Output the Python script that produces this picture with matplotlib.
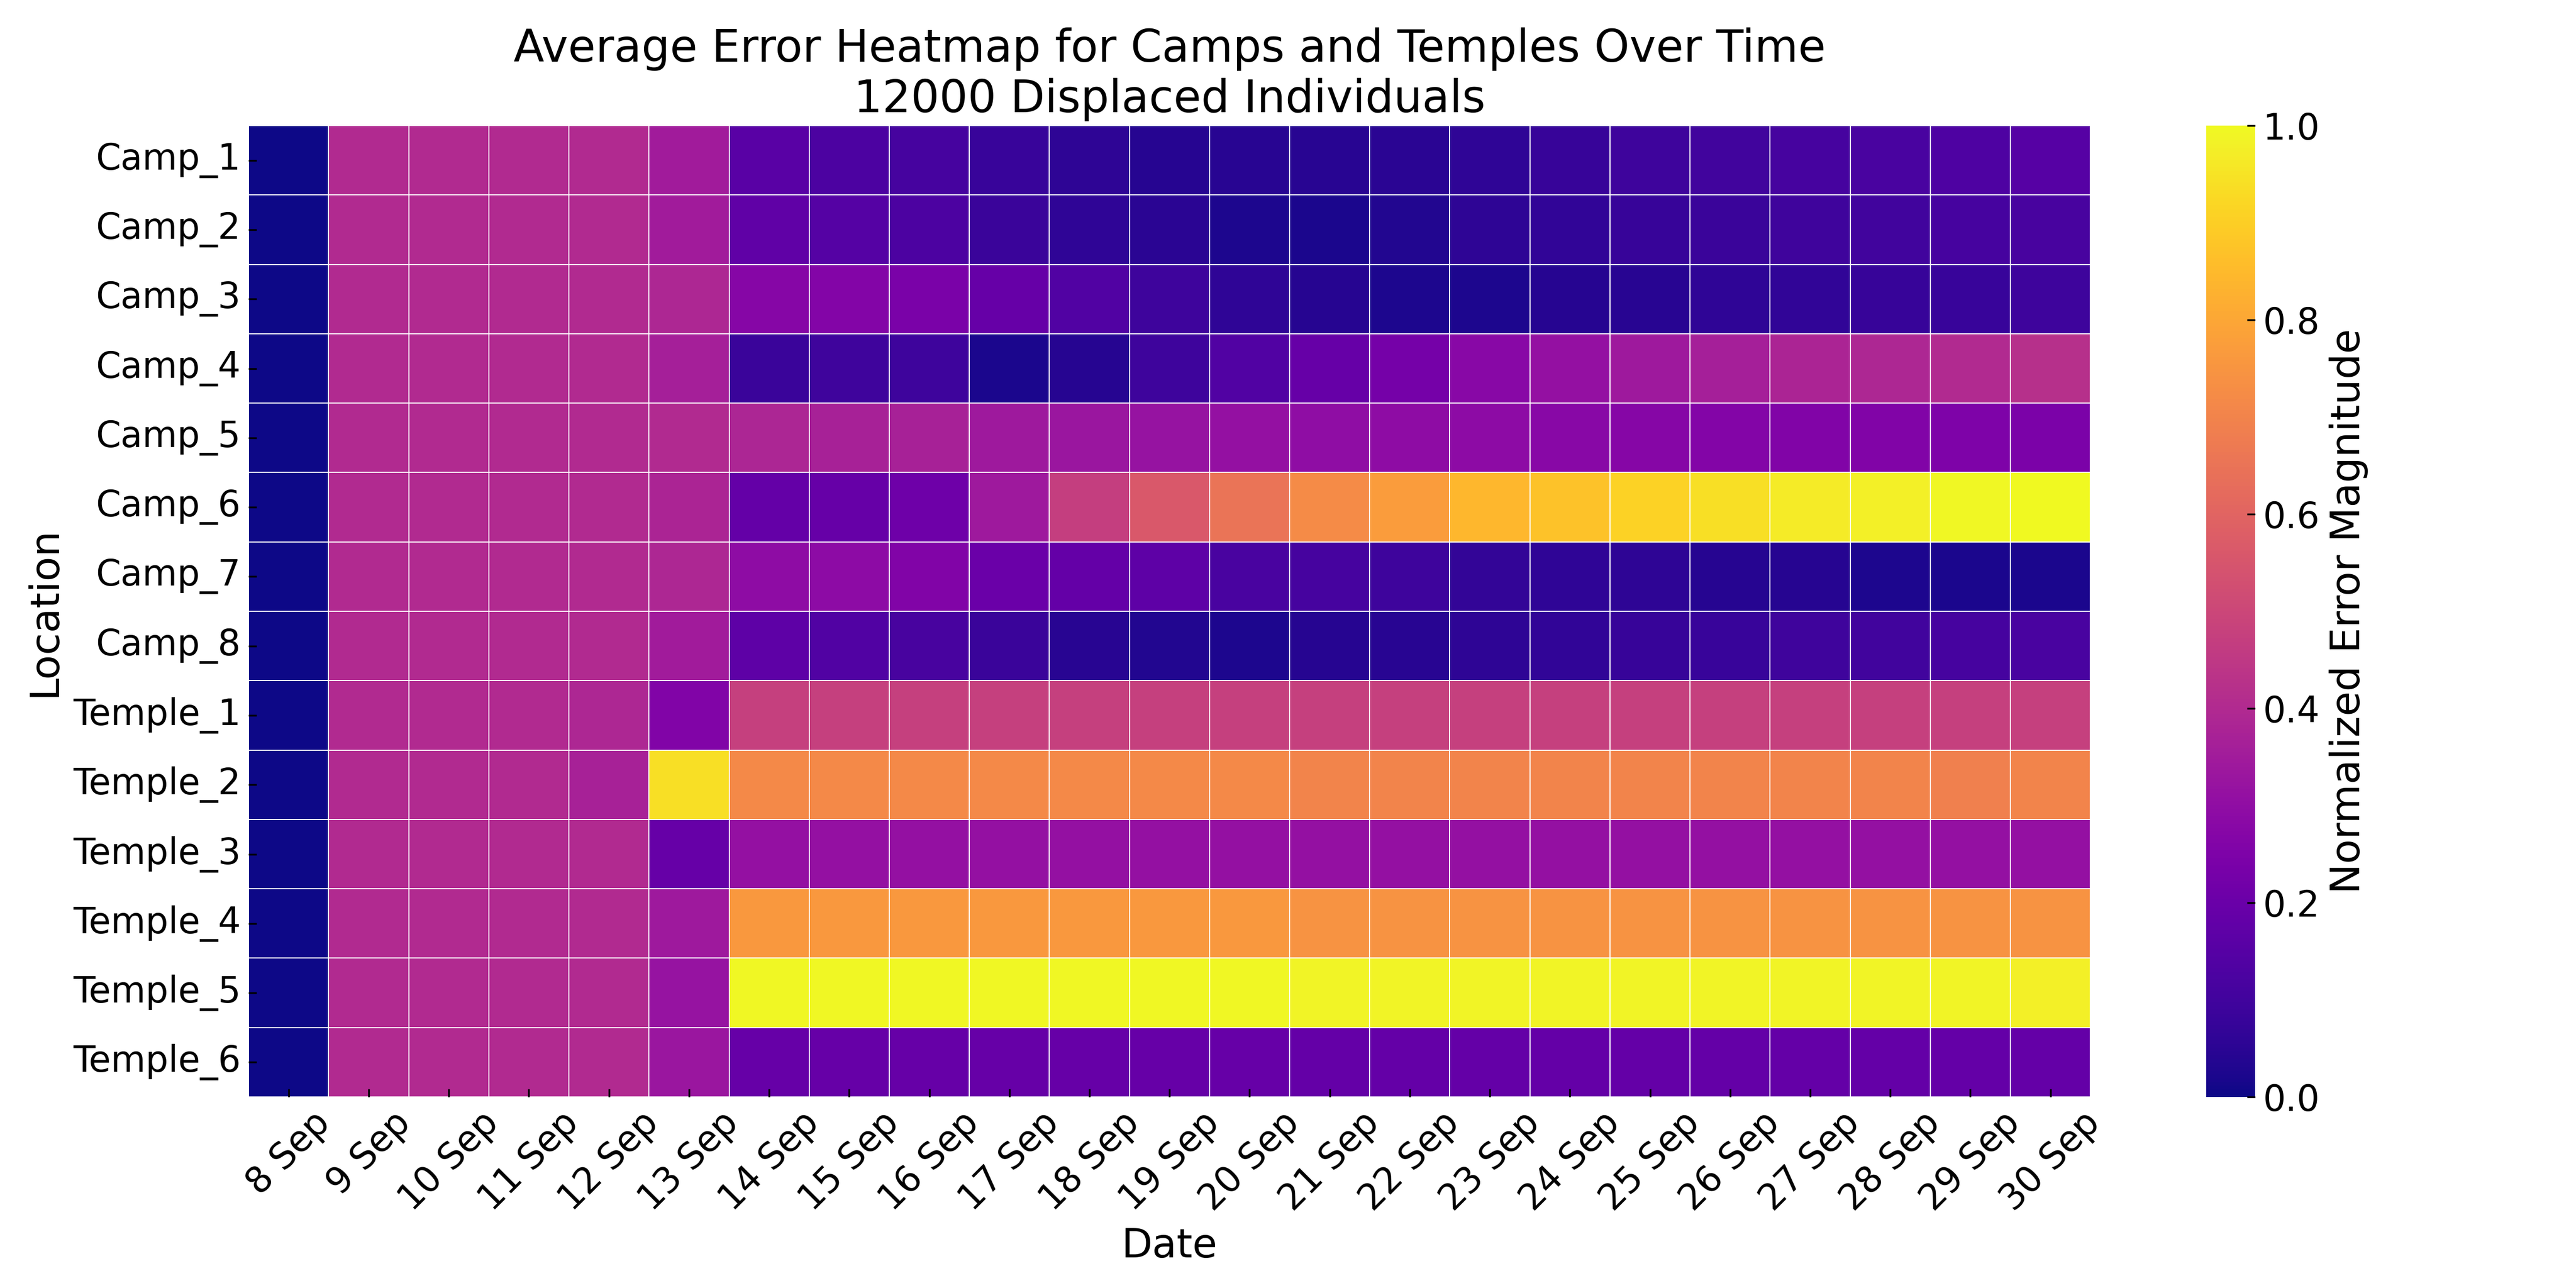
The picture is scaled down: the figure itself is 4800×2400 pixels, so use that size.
import pandas as pd
import matplotlib
matplotlib.use("Agg")
import matplotlib.pyplot as plt
import seaborn as sns

dates = ["8 Sep", "9 Sep", "10 Sep", "11 Sep", "12 Sep", "13 Sep", "14 Sep", "15 Sep",
         "16 Sep", "17 Sep", "18 Sep", "19 Sep", "20 Sep", "21 Sep", "22 Sep", "23 Sep",
         "24 Sep", "25 Sep", "26 Sep", "27 Sep", "28 Sep", "29 Sep", "30 Sep"]
locations = ["Camp_1", "Camp_2", "Camp_3", "Camp_4", "Camp_5", "Camp_6", "Camp_7", "Camp_8",
             "Temple_1", "Temple_2", "Temple_3", "Temple_4", "Temple_5", "Temple_6"]

# values, one list per location
camp_1 = [0.0, .40, .40, .40, .40, .35, .16, .125, .11, .08, .055, .04, .045, .045, .05, .06, .075, .09, .10, .11, .12, .13, .15]
camp_2 = [0.0, .40, .40, .40, .40, .35, .175, .145, .125, .085, .06, .05, .025, .02, .035, .055, .065, .075, .085, .095, .10, .11, .115]
camp_3 = [0.0, .40, .40, .40, .40, .39, .27, .265, .24, .19, .14, .09, .06, .04, .025, .025, .04, .045, .06, .065, .075, .08, .09]
camp_4 = [0.0, .40, .40, .40, .40, .36, .085, .095, .09, .02, .04, .09, .14, .19, .23, .28, .31, .34, .36, .38, .39, .40, .42]
camp_5 = [0.0, .40, .40, .40, .40, .40, .385, .37, .37, .34, .33, .32, .31, .30, .295, .29, .28, .27, .265, .26, .26, .25, .245]
camp_6 = [0.0, .40, .40, .40, .40, .38, .185, .19, .21, .34, .47, .56, .65, .72, .77, .84, .87, .91, .94, .965, .98, .995, 1.0]
camp_7 = [0.0, .40, .40, .40, .40, .39, .295, .29, .26, .20, .185, .17, .12, .11, .09, .07, .06, .055, .04, .04, .025, .02, .02]
camp_8 = [0.0, .40, .40, .40, .40, .35, .17, .14, .115, .085, .045, .035, .025, .04, .045, .055, .065, .075, .08, .095, .10, .11, .12]
temple_1 = [0.0, .40, .40, .40, .39, .26, .475, .475, .475, .475, .475, .475, .475, .475, .475, .475, .475, .475, .475, .475, .475, .475, .475]
temple_2 = [0.0, .40, .40, .40, .37, .94, .715, .715, .715, .715, .715, .715, .715, .70, .70, .70, .70, .70, .70, .70, .70, .69, .70]
temple_3 = [0.0, .40, .40, .40, .40, .19, .31, .31, .31, .31, .31, .31, .31, .31, .31, .31, .31, .31, .31, .31, .31, .31, .31]
temple_4 = [0.0, .40, .40, .40, .40, .34, .76, .76, .76, .76, .76, .76, .76, .745, .745, .745, .745, .745, .745, .745, .745, .745, .745]
temple_5 = [0.0, .40, .40, .40, .40, .32, .995, .995, .995, .995, .995, .995, .995, .985, .985, .985, .985, .985, .985, .985, .985, .985, .98]
temple_6 = [0.0, .40, .40, .40, .40, .33, .19, .19, .19, .19, .19, .19, .19, .185, .185, .185, .185, .185, .185, .185, .185, .185, .185]

values = pd.DataFrame(
    [camp_1, camp_2, camp_3, camp_4, camp_5, camp_6, camp_7, camp_8,
     temple_1, temple_2, temple_3, temple_4, temple_5, temple_6],
    index=locations, columns=dates)

fig = plt.figure(figsize=(16, 8), dpi=300)
ax = fig.add_axes([0.0965, 0.1483, 0.715, 0.7542])
cax = fig.add_axes([0.8565, 0.1483, 0.019, 0.7542])

sns.heatmap(values, ax=ax, cbar_ax=cax, cmap="plasma", vmin=0, vmax=1,
            linewidths=0.4, linecolor="white",
            cbar_kws={"label": "Normalized Error Magnitude"})

ax.set_title("Average Error Heatmap for Camps and Temples Over Time\n12000 Displaced Individuals",
             fontsize=20, pad=6)
ax.set_xlabel("Date", fontsize=18)
ax.set_ylabel("Location", fontsize=18)
ax.tick_params(axis="both", labelsize=16, direction="in")
plt.setp(ax.get_xticklabels(), rotation=45)
plt.setp(ax.get_yticklabels(), rotation=0)
cax.tick_params(labelsize=16, direction="in")
cax.set_ylabel("Normalized Error Magnitude", fontsize=18)

fig.savefig("out.png", dpi=300)
